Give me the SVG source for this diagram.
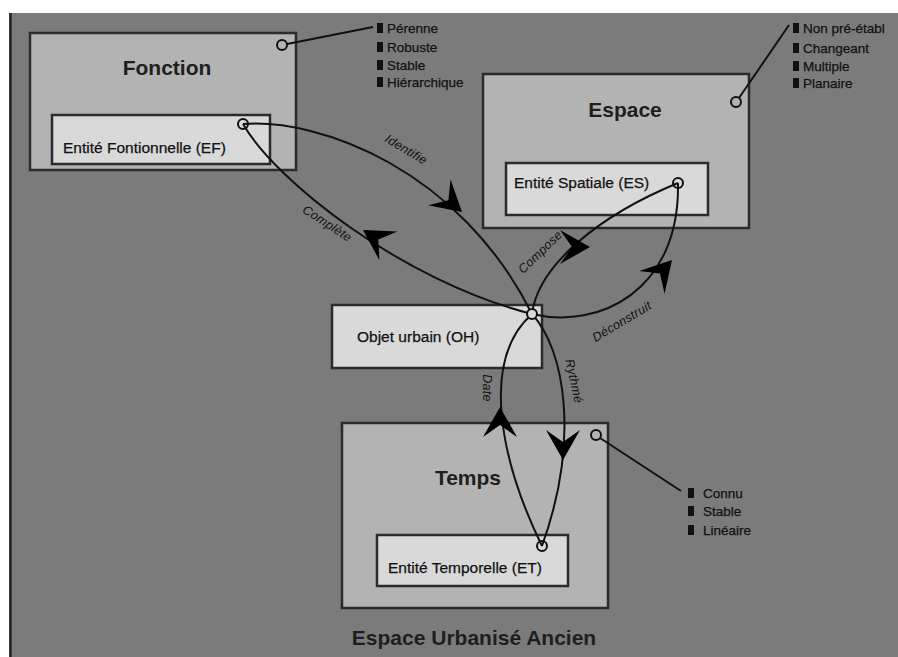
<svg xmlns="http://www.w3.org/2000/svg" xmlns:xlink="http://www.w3.org/1999/xlink" width="898" height="657" viewBox="0 0 898 657">
<defs>
<style>
.big{fill:#b3b3b3;stroke:#2b2b2b;stroke-width:2.5}
.inner{fill:#d9d9d9;stroke:#2b2b2b;stroke-width:2.5}
.title{font-family:"Liberation Sans",Arial,sans-serif;font-weight:bold;font-size:21px;fill:#1e1e1e;text-anchor:middle}
.lbl{font-family:"Liberation Sans",Arial,sans-serif;font-size:15.5px;fill:#111;stroke:#111;stroke-width:0.25}
.bul{font-family:"Liberation Sans",Arial,sans-serif;font-size:13.5px;fill:#111;stroke:#111;stroke-width:0.25}
.clbl{font-family:"Liberation Sans",Arial,sans-serif;font-style:italic;font-size:12.5px;fill:#111;text-anchor:middle;letter-spacing:0.3px}
.port{fill:none;stroke:#111;stroke-width:2}
.edge{fill:none;stroke:#111;stroke-width:2}
.sq{fill:#111}
</style>
<path id="ah" d="M0,0 L-30,-17 L-18,0 L-30,17 Z" fill="#000"/>
</defs>
<rect x="0" y="0" width="898" height="657" fill="#ffffff"/>
<rect x="9" y="13" width="889" height="644" fill="#7b7b7b"/>
<line x1="10.5" y1="13" x2="10.5" y2="657" stroke="#222" stroke-width="2.5"/>

<g id="fonction">
<rect class="big" x="30" y="33" width="266" height="137"/>
<text class="title" x="167" y="75">Fonction</text>
<circle class="port" cx="282" cy="45" r="5"/>
<line class="edge" x1="287" y1="44" x2="373" y2="27"/>
<rect class="sq" x="377" y="23" width="6" height="10"/>
<rect class="sq" x="377" y="42" width="6" height="10"/>
<rect class="sq" x="377" y="60" width="6" height="10"/>
<rect class="sq" x="377" y="77" width="6" height="10"/>
<text class="bul" x="387" y="33">Pérenne</text>
<text class="bul" x="387" y="52">Robuste</text>
<text class="bul" x="387" y="70">Stable</text>
<text class="bul" x="387" y="87">Hiérarchique</text>
</g>
<g id="ef">
<rect class="inner" x="52" y="115" width="218" height="49"/>
<text class="lbl" x="63" y="153">Entité Fontionnelle (EF)</text>
<circle class="port" cx="243" cy="124" r="5"/>
</g>

<g id="espace">
<rect class="big" x="483" y="74" width="266" height="154"/>
<text class="title" x="625" y="117">Espace</text>
<circle class="port" cx="736" cy="102" r="5"/>
<line class="edge" x1="739" y1="98" x2="789" y2="25"/>
<rect class="sq" x="793" y="23" width="6" height="10"/>
<rect class="sq" x="793" y="43" width="6" height="10"/>
<rect class="sq" x="793" y="61" width="6" height="10"/>
<rect class="sq" x="793" y="78" width="6" height="10"/>
<text class="bul" x="803" y="33">Non pré-établ</text>
<text class="bul" x="803" y="53">Changeant</text>
<text class="bul" x="803" y="71">Multiple</text>
<text class="bul" x="803" y="88">Planaire</text>
</g>
<g id="es">
<rect class="inner" x="506" y="163" width="202" height="52"/>
<text class="lbl" x="514" y="188">Entité Spatiale (ES)</text>
<circle class="port" cx="678" cy="183" r="5"/>
</g>

<g id="oh">
<rect class="inner" x="332" y="305" width="210" height="63"/>
<text class="lbl" x="357" y="342">Objet urbain (OH)</text>
</g>

<g id="temps">
<rect class="big" x="342" y="423" width="266" height="185"/>
<text class="title" x="468" y="485">Temps</text>
<circle class="port" cx="596" cy="435" r="5"/>
<line class="edge" x1="600" y1="438" x2="681" y2="491"/>
<rect class="sq" x="688" y="488" width="6" height="10"/>
<rect class="sq" x="688" y="506" width="6" height="10"/>
<rect class="sq" x="688" y="525" width="6" height="10"/>
<text class="bul" x="703" y="498">Connu</text>
<text class="bul" x="703" y="516">Stable</text>
<text class="bul" x="703" y="535">Linéaire</text>
</g>
<g id="et">
<rect class="inner" x="377" y="535" width="191" height="51"/>
<text class="lbl" x="388" y="573">Entité Temporelle (ET)</text>
<circle class="port" cx="542" cy="546" r="5"/>
</g>

<g id="connectors">
<path class="edge" d="M243,124 C320,118 460,170 532,314"/>
<path class="edge" d="M243,124 C275,180 400,280 532,314"/>
<path class="edge" d="M678,183 C600,215 538,265 532,314"/>
<path class="edge" d="M532,314 C600,330 680,290 678,183"/>
<path class="edge" d="M542,546 C500,460 480,360 532,314"/>
<path class="edge" d="M532,314 C565,350 580,440 542,546"/>
<use xlink:href="#ah" transform="translate(462,212) rotate(41)"/>
<use xlink:href="#ah" transform="translate(363,230) rotate(212)"/>
<use xlink:href="#ah" transform="translate(590,247) rotate(0)"/>
<use xlink:href="#ah" transform="translate(672,260) rotate(-48)"/>
<use xlink:href="#ah" transform="translate(500,407) rotate(-90)"/>
<use xlink:href="#ah" transform="translate(563,460) rotate(90)"/>
<circle cx="532" cy="314" r="5" fill="#d9d9d9" stroke="#111" stroke-width="2"/>
<text class="clbl" transform="translate(404,153) rotate(31)">Identifie</text>
<text class="clbl" transform="translate(325,227) rotate(33)">Complète</text>
<text class="clbl" transform="translate(543,255) rotate(-44)">Compose</text>
<text class="clbl" transform="translate(624,325) rotate(-31)">Déconstruit</text>
<text class="clbl" transform="translate(483,388) rotate(90)">Date</text>
<text class="clbl" transform="translate(570,382) rotate(78)">Rythmé</text>
</g>

<g id="footer">
<text class="title" x="474" y="645">Espace Urbanisé Ancien</text>
</g>
</svg>
